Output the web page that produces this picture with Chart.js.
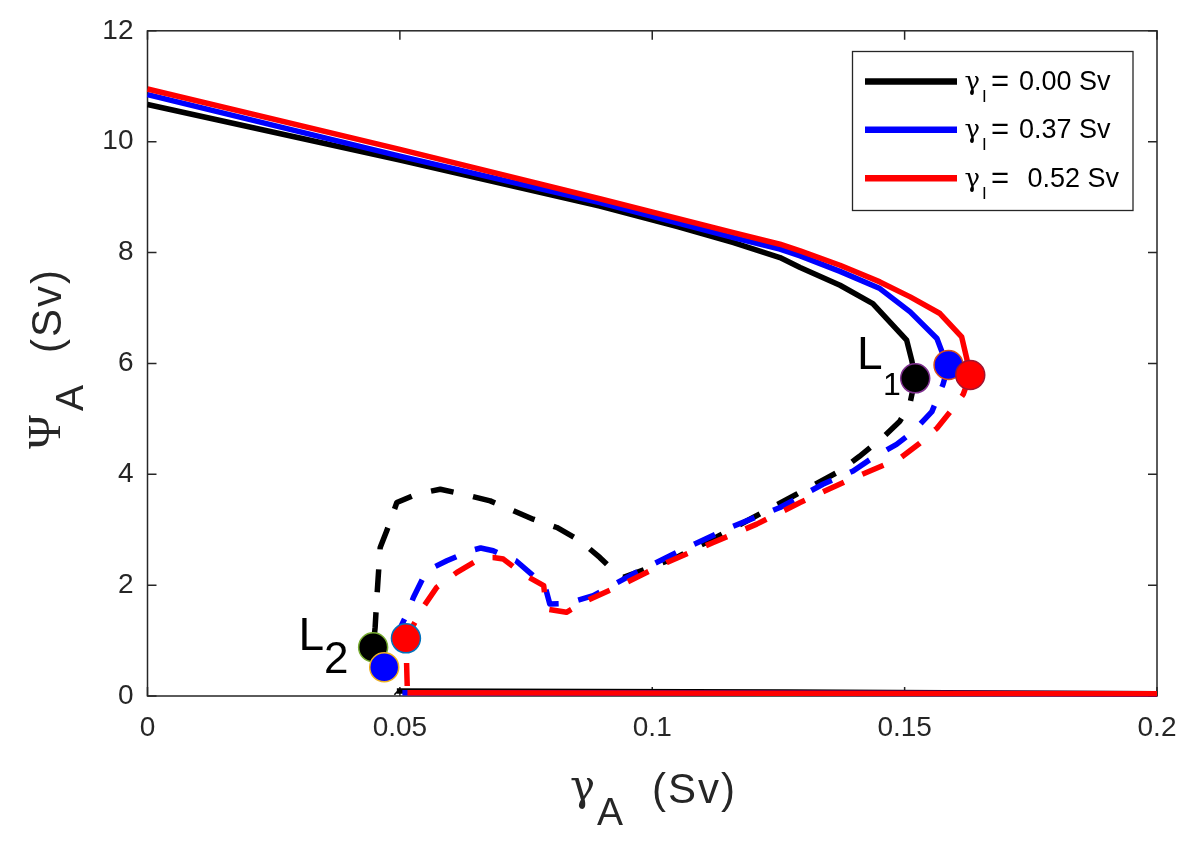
<!DOCTYPE html>
<html><head><meta charset="utf-8">
<script src="https://cdn.jsdelivr.net/npm/chart.js@4.4.1/dist/chart.umd.min.js"></script>
<style>html,body{margin:0;padding:0;background:#fff;} canvas{display:block;}</style>
</head><body>
<canvas id="c" width="1200" height="841"></canvas>
<script>
// ---------- data ----------
const xTickValues = [0, 0.05, 0.1, 0.15, 0.2];
const xTickLabels = ['0', '0.05', '0.1', '0.15', '0.2'];
const yTickValues = [0, 2, 4, 6, 8, 10, 12];
const yTickLabels = ['0', '2', '4', '6', '8', '10', '12'];

const seriesNames  = ['0.00 Sv', '0.37 Sv', '0.52 Sv'];
const seriesColors = ['#000000', '#0000ff', '#ff0000'];

// gamma_I = 0.00 Sv
const blackUpX = [0, 0.05, 0.0896, 0.1050, 0.1161, 0.1253, 0.1293, 0.1372, 0.1437, 0.1504, 0.1514, 0.1521];
const blackUpY = [10.67, 9.67, 8.84, 8.47, 8.18, 7.91, 7.73, 7.41, 7.08, 6.42, 6.06, 5.73];
const blackMidX = [0.1521, 0.1510, 0.1490, 0.1455, 0.1410, 0.1372, 0.1286, 0.1200, 0.1114, 0.1048, 0.0990, 0.0943, 0.0930, 0.0896, 0.0857, 0.0811, 0.0764, 0.0718, 0.0679, 0.0626, 0.0580, 0.0533, 0.0494, 0.0474, 0.0461, 0.0457, 0.0454, 0.0451, 0.0447, 0.0465, 0.0480, 0.0494];
const blackMidY = [5.73, 5.25, 4.95, 4.65, 4.32, 4.06, 3.64, 3.22, 2.80, 2.50, 2.30, 2.14, 2.20, 2.50, 2.80, 3.04, 3.19, 3.37, 3.52, 3.64, 3.73, 3.64, 3.49, 2.98, 2.68, 2.14, 1.72, 1.24, 0.88, 0.45, 0.17, 0.05];
const blackLowX = [0.0494, 0.1270, 0.2];
const blackLowY = [0.09, 0.07, 0.04];

// gamma_I = 0.37 Sv
const blueUpX = [0, 0.05, 0.0896, 0.1161, 0.1253, 0.1293, 0.1372, 0.1451, 0.1511, 0.1564, 0.1576, 0.1587];
const blueUpY = [10.85, 9.74, 8.90, 8.27, 8.06, 7.94, 7.66, 7.35, 6.93, 6.45, 6.16, 5.97];
const blueMidX = [0.1587, 0.1576, 0.1554, 0.1517, 0.1484, 0.1437, 0.1398, 0.1338, 0.1253, 0.1154, 0.1055, 0.0962, 0.0883, 0.0830, 0.0797, 0.0790, 0.0768, 0.0730, 0.0685, 0.0660, 0.0639, 0.0593, 0.0553, 0.0527, 0.0514, 0.0480, 0.0469, 0.0487, 0.0505];
const blueMidY = [5.97, 5.62, 5.13, 4.77, 4.54, 4.30, 4.06, 3.82, 3.40, 3.04, 2.62, 2.20, 1.81, 1.67, 1.66, 1.90, 2.14, 2.44, 2.62, 2.67, 2.62, 2.44, 2.26, 1.78, 1.48, 0.83, 0.52, 0.17, 0.05];
const blueLowX = [0.0505, 0.2];
const blueLowY = [0.06, 0.04];

// gamma_I = 0.52 Sv
const redUpX = [0, 0.05, 0.0896, 0.1161, 0.1253, 0.1293, 0.1372, 0.1451, 0.1511, 0.1570, 0.1613, 0.1623, 0.1630];
const redUpY = [10.95, 9.86, 8.97, 8.36, 8.15, 8.03, 7.77, 7.47, 7.20, 6.90, 6.48, 6.09, 5.79];
const redMidX = [0.1630, 0.1616, 0.1596, 0.1564, 0.1530, 0.1491, 0.1385, 0.1293, 0.1207, 0.1121, 0.1029, 0.0936, 0.0870, 0.0830, 0.0790, 0.0785, 0.0744, 0.0705, 0.0685, 0.0665, 0.0652, 0.0613, 0.0573, 0.0546, 0.0525, 0.0512, 0.0514, 0.0515];
const redMidY = [5.79, 5.44, 5.19, 4.83, 4.56, 4.29, 3.88, 3.49, 3.10, 2.77, 2.41, 1.99, 1.72, 1.51, 1.57, 1.99, 2.20, 2.47, 2.50, 2.50, 2.44, 2.23, 1.96, 1.60, 1.25, 1.04, 0.35, 0.05];
const redLowX = [0.0515, 0.2];
const redLowY = [0.06, 0.04];

// fold points (L2 then L1 for each series)
const foldX = [0.0447, 0.0469, 0.0512, 0.1521, 0.1587, 0.1630];
const foldY = [0.88, 0.52, 1.04, 5.73, 5.97, 5.79];
const foldFill = ['#000000', '#0000ff', '#ff0000', '#000000', '#0000ff', '#ff0000'];
const foldEdge = ['#77AC30', '#EDB120', '#0072BD', '#7E2F8E', '#D95319', '#A2142F'];

// ---------- helpers ----------
function pts(xs, ys) { return xs.map((x, i) => ({ x: x, y: ys[i] })); }
const SANS = '"Liberation Sans", Arial, Helvetica, sans-serif';
const SERIF = '"Liberation Serif", "Times New Roman", serif';
const GREEK = '"DejaVu Serif", "Liberation Serif", serif';
const AX = '#262626';
const LW = 5.5;
const DASH = [23, 20];

function lineDs(xs, ys, color, dashed, order) {
  return {
    data: pts(xs, ys), showLine: true, borderColor: color, backgroundColor: color,
    borderWidth: LW, borderDash: dashed ? DASH : [], pointRadius: 0, pointHoverRadius: 0,
    tension: 0, fill: false, order: order, borderJoinStyle: 'round', clip: 8
  };
}

const datasets = [
  lineDs(redLowX, redLowY, seriesColors[2], false, -1),
  { data: pts(foldX, foldY), showLine: false, pointRadius: 14.5, pointHoverRadius: 14.5,
    pointBackgroundColor: foldFill, pointBorderColor: foldEdge, pointBorderWidth: 1.5, order: 0 },
  lineDs(redUpX, redUpY, seriesColors[2], false, 1),
  lineDs(redMidX, redMidY, seriesColors[2], true, 1),
  lineDs(blueUpX, blueUpY, seriesColors[1], false, 2),
  lineDs(blueMidX, blueMidY, seriesColors[1], true, 2),
  lineDs(blueLowX, blueLowY, seriesColors[1], false, 2),
  lineDs(blackUpX, blackUpY, seriesColors[0], false, 3),
  lineDs(blackMidX, blackMidY, seriesColors[0], true, 3),
  lineDs(blackLowX, blackLowY, seriesColors[0], false, 3)
];

const decor = {
  id: 'decor',
  beforeDatasetsDraw(chart) {
    const ctx = chart.ctx;
    const a = chart.chartArea;
    const xs = chart.scales.x, ys = chart.scales.y;
    ctx.save();
    ctx.strokeStyle = AX; ctx.lineWidth = 1.5;
    ctx.strokeRect(a.left, a.top, a.right - a.left, a.bottom - a.top);
    const TL = 9;
    ctx.beginPath();
    xTickValues.forEach(v => {
      const p = xs.getPixelForValue(v);
      ctx.moveTo(p, a.bottom); ctx.lineTo(p, a.bottom - TL);
      ctx.moveTo(p, a.top); ctx.lineTo(p, a.top + TL);
    });
    yTickValues.forEach(v => {
      const p = ys.getPixelForValue(v);
      ctx.moveTo(a.left, p); ctx.lineTo(a.left + TL, p);
      ctx.moveTo(a.right, p); ctx.lineTo(a.right - TL, p);
    });
    ctx.stroke();
    ctx.restore();
  },
  afterDraw(chart) {
    const ctx = chart.ctx;
    ctx.save();
    ctx.fillStyle = AX;
    ctx.textBaseline = 'alphabetic';
    ctx.textAlign = 'left';
    // x title: gamma_A  (Sv)
    ctx.font = '42px ' + GREEK; ctx.fillText('γ', 570, 800);
    ctx.font = '39px ' + SANS; ctx.fillText('A', 597, 825);
    ctx.font = '42px ' + SANS;
    try { ctx.letterSpacing = '2px'; } catch (e) {}
    ctx.fillText('(Sv)', 652, 803);
    // y title: Psi_A  (Sv)
    ctx.save();
    ctx.rotate(-Math.PI / 2);
    try { ctx.letterSpacing = '0px'; } catch (e) {}
    ctx.font = '46px ' + SERIF; ctx.fillText('Ψ', -449, 60);
    ctx.font = '39px ' + SANS; ctx.fillText('A', -411, 83);
    ctx.font = '42px ' + SANS;
    try { ctx.letterSpacing = '2px'; } catch (e) {}
    ctx.fillText('(Sv)', -353, 61);
    ctx.restore();
    try { ctx.letterSpacing = '0px'; } catch (e) {}

    // L1, L2 labels
    ctx.fillStyle = '#000';
    ctx.font = '46px ' + SANS; ctx.fillText('L', 857, 369);
    ctx.font = '32px ' + SANS; ctx.fillText('1', 883, 395);
    ctx.font = '46px ' + SANS; ctx.fillText('L', 298.5, 650);
    ctx.font = '44px ' + SANS; ctx.fillText('2', 324, 673);

    // legend
    ctx.fillStyle = '#fff';
    ctx.fillRect(852.5, 51.5, 280.5, 159);
    ctx.strokeStyle = AX; ctx.lineWidth = 1.3;
    ctx.strokeRect(852.5, 51.5, 280.5, 159);
    const baselines = [90, 138.3, 186.7];
    const valueX = [1019, 1019, 1027.5];
    for (let i = 0; i < 3; i++) {
      const b = baselines[i];
      ctx.strokeStyle = seriesColors[i]; ctx.lineWidth = 6.5;
      ctx.beginPath(); ctx.moveTo(865, b - 8.5); ctx.lineTo(957, b - 8.5); ctx.stroke();
      ctx.fillStyle = '#000';
      ctx.font = '26px ' + GREEK; ctx.fillText('γ', 964.5, b);
      ctx.font = '17px ' + SANS; ctx.fillText('I', 982, b + 12);
      ctx.font = '31px ' + SANS;
      ctx.fillText('=', 991, b + 1);
      ctx.font = '27px ' + SANS;
      ctx.fillText(seriesNames[i], valueX[i], b);
    }
    ctx.restore();
  }
};

new Chart(document.getElementById('c'), {
  type: 'scatter',
  data: { datasets: datasets },
  options: {
    responsive: false, animation: false, devicePixelRatio: 1,
    layout: { padding: { left: 0, right: 43, top: 27, bottom: 0 } },
    plugins: { legend: { display: false }, tooltip: { enabled: false } },
    events: [],
    scales: {
      x: {
        type: 'linear', position: 'bottom', min: 0, max: 0.2,
        grid: { display: false, drawTicks: false }, border: { display: false },
        afterBuildTicks: s => { s.ticks = xTickValues.map(v => ({ value: v })); },
        afterFit: s => { s.height = 145; },
        ticks: {
          color: AX, padding: 15, maxRotation: 0, autoSkip: false,
          font: { family: SANS, size: 28 },
          callback: (v, i) => xTickLabels[i]
        }
      },
      y: {
        type: 'linear', position: 'left', min: 0, max: 12,
        grid: { display: false, drawTicks: false }, border: { display: false },
        afterBuildTicks: s => { s.ticks = yTickValues.map(v => ({ value: v })); },
        afterFit: s => { s.width = 147.5; },
        ticks: {
          color: AX, padding: 14, autoSkip: false,
          font: { family: SANS, size: 28 },
          callback: (v, i) => yTickLabels[i]
        }
      }
    }
  },
  plugins: [decor]
});
</script>
</body></html>
